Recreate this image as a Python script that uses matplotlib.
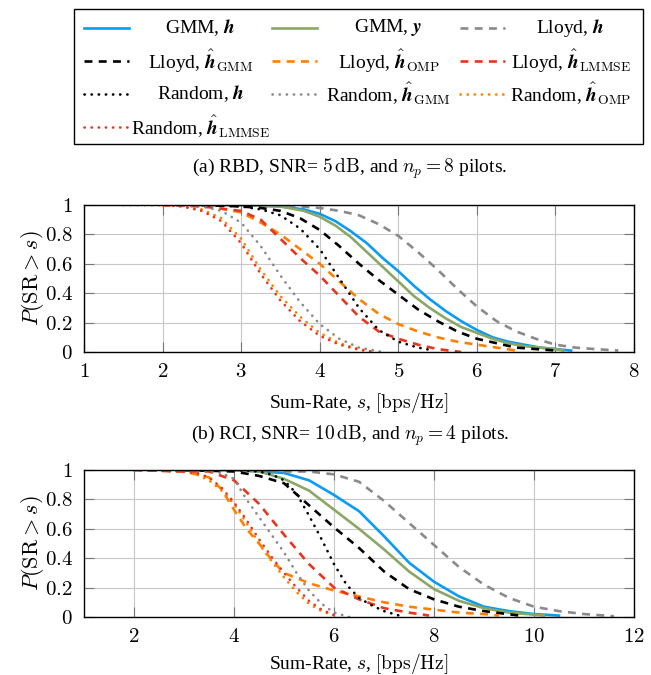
import matplotlib
matplotlib.use("Agg")
import matplotlib.pyplot as plt
from matplotlib.patches import Rectangle
from matplotlib.ticker import FuncFormatter

plt.rcParams['font.family'] = ['Liberation Serif', 'DejaVu Serif']
plt.rcParams['mathtext.fontset'] = 'cm'

# ---- colours / styles ----
BLUE = '#0A9BF5'
GREEN = '#8AA765'
GRAY = '#8A8A8A'
BLACK = '#000000'
ORANGE = '#FF8000'
RED = '#E8361E'

labels = [r'GMM, $\boldsymbol{h}$', r'GMM, $\boldsymbol{y}$', r'Lloyd, $\boldsymbol{h}$',
          r'Lloyd, $\hat{\boldsymbol{h}}_{\mathrm{GMM}}$', r'Lloyd, $\hat{\boldsymbol{h}}_{\mathrm{OMP}}$',
          r'Lloyd, $\hat{\boldsymbol{h}}_{\mathrm{LMMSE}}$',
          r'Random, $\boldsymbol{h}$', r'Random, $\hat{\boldsymbol{h}}_{\mathrm{GMM}}$',
          r'Random, $\hat{\boldsymbol{h}}_{\mathrm{OMP}}$', r'Random, $\hat{\boldsymbol{h}}_{\mathrm{LMMSE}}$']
colors = [BLUE, GREEN, GRAY, BLACK, ORANGE, RED, BLACK, GRAY, ORANGE, RED]
kinds = ['solid', 'solid', 'dash', 'dash', 'dash', 'dash', 'dot', 'dot', 'dot', 'dot']

# ---- (a) RBD, SNR 5 dB, 8 pilots ----
a_x = [
    [2.5, 3, 3.5, 3.8, 4, 4.2, 4.4, 4.6, 4.8, 5, 5.2, 5.4, 5.6, 5.8, 6, 6.2, 6.4, 6.6, 6.8, 7, 7.2],
    [2.5, 3, 3.5, 3.8, 4, 4.2, 4.4, 4.6, 4.8, 5, 5.2, 5.4, 5.6, 5.8, 6, 6.2, 6.4, 6.6, 6.8, 7, 7.1],
    [2.5, 3, 3.5, 4, 4.25, 4.5, 4.75, 5, 5.25, 5.5, 5.75, 6, 6.25, 6.5, 6.75, 7, 7.25, 7.5, 7.8],
    [2.5, 3, 3.25, 3.5, 3.75, 4, 4.25, 4.5, 4.75, 5, 5.25, 5.5, 5.75, 6, 6.25, 6.5, 6.75, 7],
    [2, 2.5, 3, 3.25, 3.5, 3.75, 4, 4.25, 4.5, 4.75, 5, 5.25, 5.5, 5.75, 6, 6.25, 6.5],
    [2, 2.5, 3, 3.25, 3.5, 3.75, 4, 4.25, 4.5, 4.75, 5, 5.25, 5.5, 5.8],
    [2.5, 3, 3.25, 3.5, 3.75, 4, 4.25, 4.5, 4.75, 5, 5.25, 5.45],
    [2, 2.5, 2.75, 3, 3.25, 3.5, 3.75, 4, 4.25, 4.5, 4.8],
    [1.5, 2, 2.25, 2.5, 2.75, 3, 3.25, 3.5, 3.75, 4, 4.25, 4.5, 4.7],
    [1.5, 2, 2.25, 2.5, 2.75, 3, 3.25, 3.5, 3.75, 4, 4.25, 4.5, 4.7],
]
a_y = [
    [1, 1, 0.99, 0.97, 0.94, 0.89, 0.82, 0.74, 0.64, 0.55, 0.45, 0.36, 0.28, 0.21, 0.15, 0.1, 0.07, 0.05, 0.03, 0.02, 0.01],
    [1, 1, 0.99, 0.96, 0.92, 0.86, 0.78, 0.68, 0.58, 0.48, 0.38, 0.3, 0.23, 0.17, 0.13, 0.09, 0.06, 0.04, 0.03, 0.02, 0.01],
    [1, 1, 1, 0.98, 0.96, 0.93, 0.87, 0.79, 0.68, 0.56, 0.43, 0.31, 0.21, 0.14, 0.09, 0.05, 0.03, 0.02, 0.01],
    [1, 0.99, 0.98, 0.96, 0.91, 0.83, 0.72, 0.6, 0.49, 0.39, 0.29, 0.21, 0.14, 0.09, 0.06, 0.03, 0.02, 0.01],
    [1, 1, 0.95, 0.88, 0.8, 0.7, 0.6, 0.48, 0.36, 0.26, 0.19, 0.14, 0.1, 0.07, 0.05, 0.03, 0.01],
    [1, 0.99, 0.96, 0.9, 0.77, 0.64, 0.52, 0.38, 0.24, 0.14, 0.09, 0.05, 0.02, 0.0],
    [1, 0.99, 0.97, 0.93, 0.84, 0.7, 0.5, 0.3, 0.15, 0.07, 0.03, 0.01],
    [1, 0.99, 0.96, 0.88, 0.72, 0.52, 0.34, 0.19, 0.09, 0.03, 0.0],
    [1, 1, 0.99, 0.97, 0.91, 0.77, 0.56, 0.38, 0.24, 0.13, 0.06, 0.02, 0.0],
    [1, 1, 0.99, 0.96, 0.89, 0.74, 0.53, 0.35, 0.21, 0.11, 0.05, 0.015, 0.0],
]

# ---- (b) RCI, SNR 10 dB, 4 pilots ----
b_x = [
    [3, 4, 4.5, 5, 5.5, 6, 6.5, 7, 7.5, 8, 8.5, 9, 9.5, 10, 10.5],
    [3, 4, 4.5, 5, 5.5, 6, 6.5, 7, 7.5, 8, 8.5, 9, 9.5, 10.2],
    [3, 4, 5, 5.5, 6, 6.5, 7, 7.5, 8, 8.5, 9, 9.5, 10, 10.5, 11, 11.6],
    [3, 4, 4.5, 5, 5.5, 6, 6.5, 7, 7.5, 8, 8.5, 9, 9.7],
    [2, 3, 3.5, 3.75, 4, 4.25, 4.5, 4.75, 5, 5.5, 6, 6.5, 7, 7.5, 8, 8.5, 9, 9.3],
    [2, 3, 3.5, 4, 4.5, 5, 5.5, 6, 6.5, 7, 7.5, 7.9],
    [3, 4, 4.5, 4.75, 5, 5.25, 5.5, 5.75, 6, 6.25, 6.5, 6.75, 7, 7.3],
    [2, 3, 3.5, 3.75, 4, 4.25, 4.5, 4.75, 5, 5.25, 5.5, 5.75, 6, 6.3],
    [2, 3, 3.25, 3.5, 3.75, 4, 4.25, 4.5, 4.75, 5, 5.25, 5.5, 5.75, 6.1],
    [2, 3, 3.25, 3.5, 3.75, 4, 4.25, 4.5, 4.75, 5, 5.25, 5.5, 5.75, 6.1],
]
b_y = [
    [1, 1, 0.99, 0.98, 0.93, 0.83, 0.72, 0.55, 0.37, 0.24, 0.14, 0.07, 0.04, 0.02, 0.01],
    [1, 1, 0.99, 0.94, 0.86, 0.73, 0.6, 0.46, 0.31, 0.19, 0.11, 0.06, 0.03, 0.01],
    [1, 1, 0.99, 0.99, 0.97, 0.92, 0.79, 0.64, 0.49, 0.34, 0.22, 0.13, 0.07, 0.04, 0.02, 0.005],
    [1, 0.99, 0.96, 0.91, 0.76, 0.61, 0.47, 0.31, 0.19, 0.12, 0.07, 0.04, 0.01],
    [1, 0.99, 0.95, 0.87, 0.73, 0.6, 0.5, 0.39, 0.3, 0.23, 0.18, 0.14, 0.1, 0.07, 0.05, 0.03, 0.02, 0.01],
    [1, 0.99, 0.99, 0.93, 0.77, 0.56, 0.36, 0.2, 0.12, 0.06, 0.03, 0.01],
    [1, 1, 0.99, 0.97, 0.93, 0.84, 0.69, 0.53, 0.36, 0.22, 0.13, 0.08, 0.04, 0.01],
    [1, 0.99, 0.99, 0.98, 0.94, 0.8, 0.68, 0.56, 0.44, 0.3, 0.18, 0.09, 0.03, 0.0],
    [1, 0.99, 0.97, 0.93, 0.86, 0.77, 0.64, 0.5, 0.38, 0.27, 0.17, 0.09, 0.04, 0.0],
    [1, 0.99, 0.98, 0.95, 0.88, 0.78, 0.66, 0.53, 0.41, 0.3, 0.2, 0.11, 0.05, 0.0],
]


def style(kind, color):
    if kind == 'solid':
        return dict(color=color, lw=1.9, linestyle='-')
    if kind == 'dash':
        return dict(color=color, lw=1.9, linestyle=(0, (3.0, 2.4)))
    return dict(color=color, lw=1.9, linestyle=(0, (0.1, 2.6)), dash_capstyle='round')


def panel(ax, xs, ys, xlim, xticks, xpad):
    for x, y, c, k in zip(xs, ys, colors, kinds):
        ax.plot(x, y, **style(k, c))
    ax.set_xlim(*xlim)
    ax.set_ylim(0, 1)
    ax.set_xticks(xticks)
    ax.set_yticks([0, 0.2, 0.4, 0.6, 0.8, 1])
    fmt = FuncFormatter(lambda v, p: '$%g$' % v)
    ax.xaxis.set_major_formatter(fmt)
    ax.yaxis.set_major_formatter(fmt)
    ax.grid(True, color='#C8C8C8', lw=0.8)
    ax.set_axisbelow(True)
    ax.tick_params(direction='in', length=7, color='#777777', labelsize=15,
                   top=True, right=True, pad=8)
    for s in ax.spines.values():
        s.set_linewidth(1.0)
    ax.set_ylabel(r'$P(\mathrm{SR} > s)$', fontsize=16, labelpad=-1)
    ax.set_xlabel(r'Sum-Rate, $s$, $[\mathrm{bps/Hz}]$', fontsize=14, labelpad=xpad)


fig = plt.figure(figsize=(6.51, 6.75), dpi=100)
ax1 = fig.add_axes([84 / 651, 1 - 352 / 675, 550 / 651, 147 / 675])
ax2 = fig.add_axes([84 / 651, 1 - 617 / 675, 550 / 651, 147 / 675])
panel(ax1, a_x, a_y, (1, 8), [1, 2, 3, 4, 5, 6, 7, 8], 6)
panel(ax2, b_x, b_y, (1, 12), [2, 4, 6, 8, 10, 12], 3)

fig.text(350 / 651, 1 - 169 / 675, r'(a) RBD, SNR= $5\,\mathrm{dB}$, and $n_p = 8$ pilots.',
         ha='center', va='center', fontsize=14)
fig.text(350 / 651, 1 - 436 / 675, r'(b) RCI, SNR= $10\,\mathrm{dB}$, and $n_p = 4$ pilots.',
         ha='center', va='center', fontsize=14)

# ---- legend box (drawn in pixel units) ----
lg = fig.add_axes([0, 0, 1, 1], facecolor='none')
lg.set_xlim(0, 651)
lg.set_ylim(675, 0)
lg.axis('off')
lg.add_patch(Rectangle((74, 9), 569, 135, fill=False, ec='black', lw=1.0))
col_x = [84, 272, 460]
row_y = [28, 61, 94, 127]
hlen = 45
for i, (lab, c, k) in enumerate(zip(labels, colors, kinds)):
    r, cidx = divmod(i, 3)
    x0 = col_x[cidx]
    y0 = row_y[r]
    lg.plot([x0, x0 + hlen], [y0, y0], **style(k, c))
    x_end = col_x[cidx + 1] if cidx < 2 else 636
    lg.text((x0 + hlen + x_end) / 2, y0, lab, ha='center', va='center', fontsize=14)

fig.savefig('out.png', dpi=100)
